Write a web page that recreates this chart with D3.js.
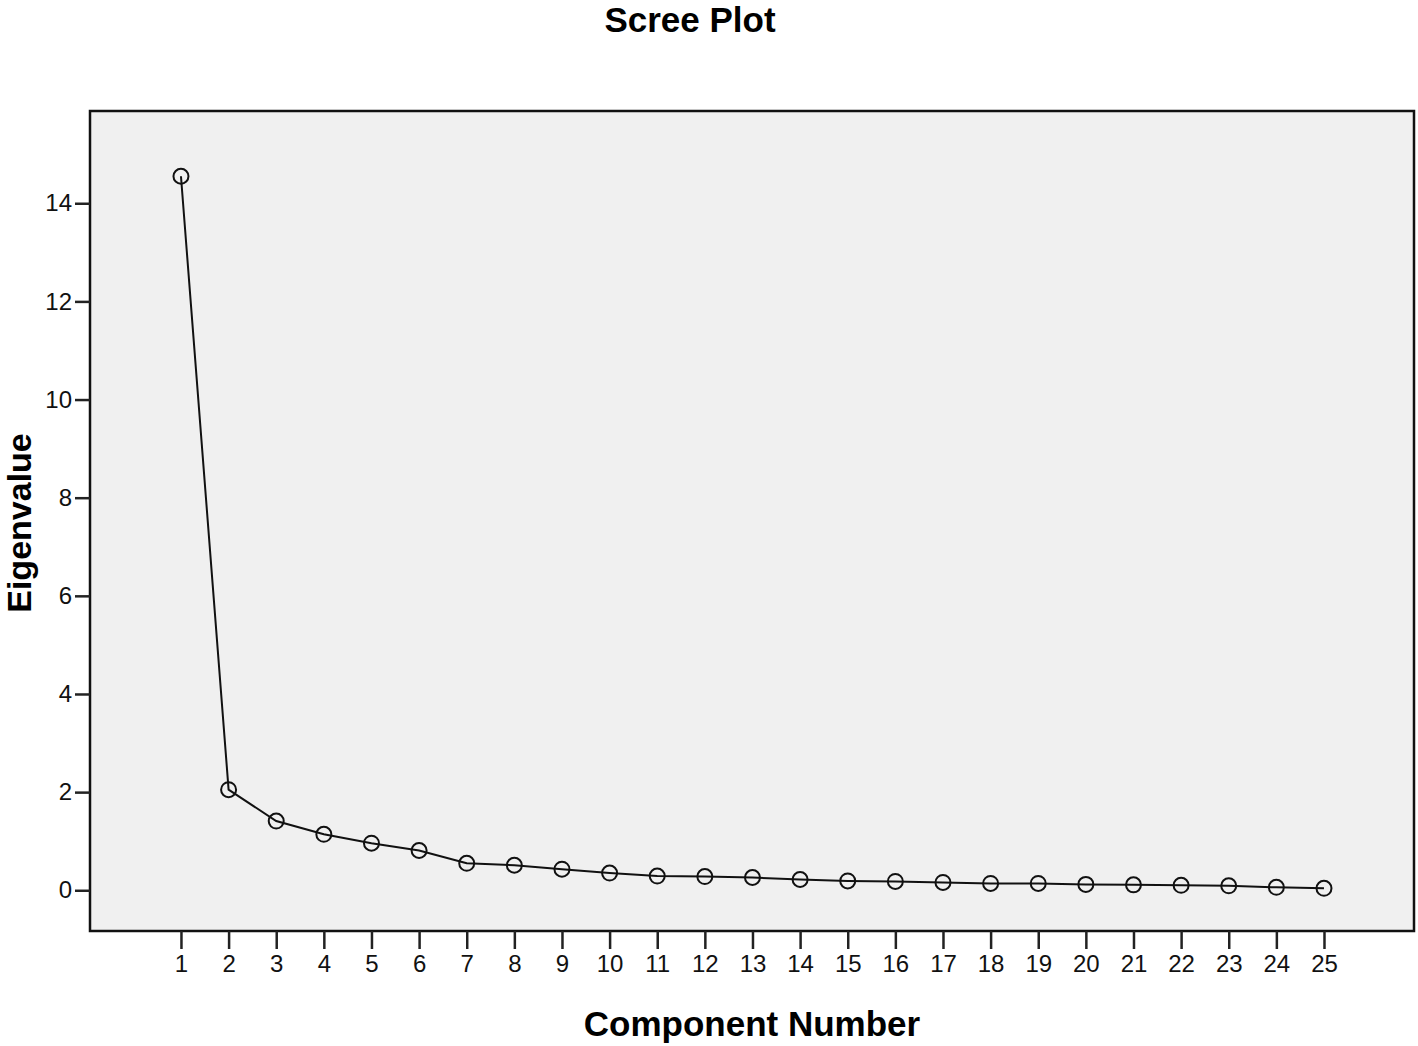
<!DOCTYPE html>
<html>
<head>
<meta charset="utf-8">
<script src="https://cdn.jsdelivr.net/npm/d3@7"></script>
<style>
  body { margin: 0; background: #fff; }
  text { font-family: "Liberation Sans", Arial, sans-serif; }
</style>
</head>
<body>
<div id="chart"></div>
<script>
// Scree plot data
const components = d3.range(1, 26);
const eigenvalues = [14.55, 2.05, 1.41, 1.14, 0.96, 0.81, 0.55, 0.51, 0.43, 0.35,
                     0.29, 0.28, 0.26, 0.22, 0.19, 0.18, 0.16, 0.14, 0.14, 0.12,
                     0.11, 0.10, 0.09, 0.06, 0.04];
const yTicks = [0, 2, 4, 6, 8, 10, 12, 14];

const width = 1418;
const height = 1046;
const margin = {left: 90, right: 4, top: 111, bottom: 115};

const svg = d3.select("#chart")
  .append("svg")
  .attr("width", width)
  .attr("height", height);

const x = d3.scaleLinear()
  .domain([-0.91, 26.89])
  .range([margin.left, width - margin.right]);

const y = d3.scaleLinear()
  .domain([-0.83, 15.88])
  .range([height - margin.bottom, margin.top]);

// plot background
svg.append("rect")
  .attr("x", margin.left)
  .attr("y", margin.top)
  .attr("width", width - margin.left - margin.right)
  .attr("height", height - margin.top - margin.bottom)
  .attr("fill", "#f0f0f0")
  .attr("stroke", "#111")
  .attr("stroke-width", 2.5);

// axes
const yAxis = svg.append("g")
  .attr("transform", `translate(${margin.left},0)`)
  .call(d3.axisLeft(y).tickValues(yTicks).tickSize(15).tickPadding(3));

const xAxis = svg.append("g")
  .attr("transform", `translate(0,${height - margin.bottom})`)
  .call(d3.axisBottom(x).tickValues(components).tickSize(18).tickPadding(6));

[yAxis, xAxis].forEach(g => {
  g.select(".domain").remove();
  g.selectAll(".tick line").attr("stroke", "#222").attr("stroke-width", 2.5);
  g.selectAll(".tick text")
    .attr("font-size", "24px")
    .attr("fill", "#111")
    .style("font-family", "'Liberation Sans', Arial, sans-serif");
});

// line
const line = d3.line()
  .x((d, i) => x(components[i]))
  .y(d => y(d));

svg.append("path")
  .datum(eigenvalues)
  .attr("fill", "none")
  .attr("stroke", "#111")
  .attr("stroke-width", 2)
  .attr("d", line);

// markers
svg.selectAll(".pt")
  .data(eigenvalues)
  .enter()
  .append("circle")
    .attr("class", "pt")
    .attr("cx", (d, i) => x(components[i]))
    .attr("cy", d => y(d))
    .attr("r", 7.5)
    .attr("fill", "none")
    .attr("stroke", "#111")
    .attr("stroke-width", 2);

// titles
svg.append("text")
  .attr("x", 690)
  .attr("y", 32)
  .attr("text-anchor", "middle")
  .attr("font-size", "35px")
  .attr("font-weight", "bold")
  .text("Scree Plot");

svg.append("text")
  .attr("x", 752)
  .attr("y", 1036)
  .attr("text-anchor", "middle")
  .attr("font-size", "35px")
  .attr("font-weight", "bold")
  .text("Component Number");

svg.append("text")
  .attr("transform", "translate(31,523) rotate(-90)")
  .attr("text-anchor", "middle")
  .attr("font-size", "34px")
  .attr("font-weight", "bold")
  .text("Eigenvalue");
</script>
</body>
</html>
